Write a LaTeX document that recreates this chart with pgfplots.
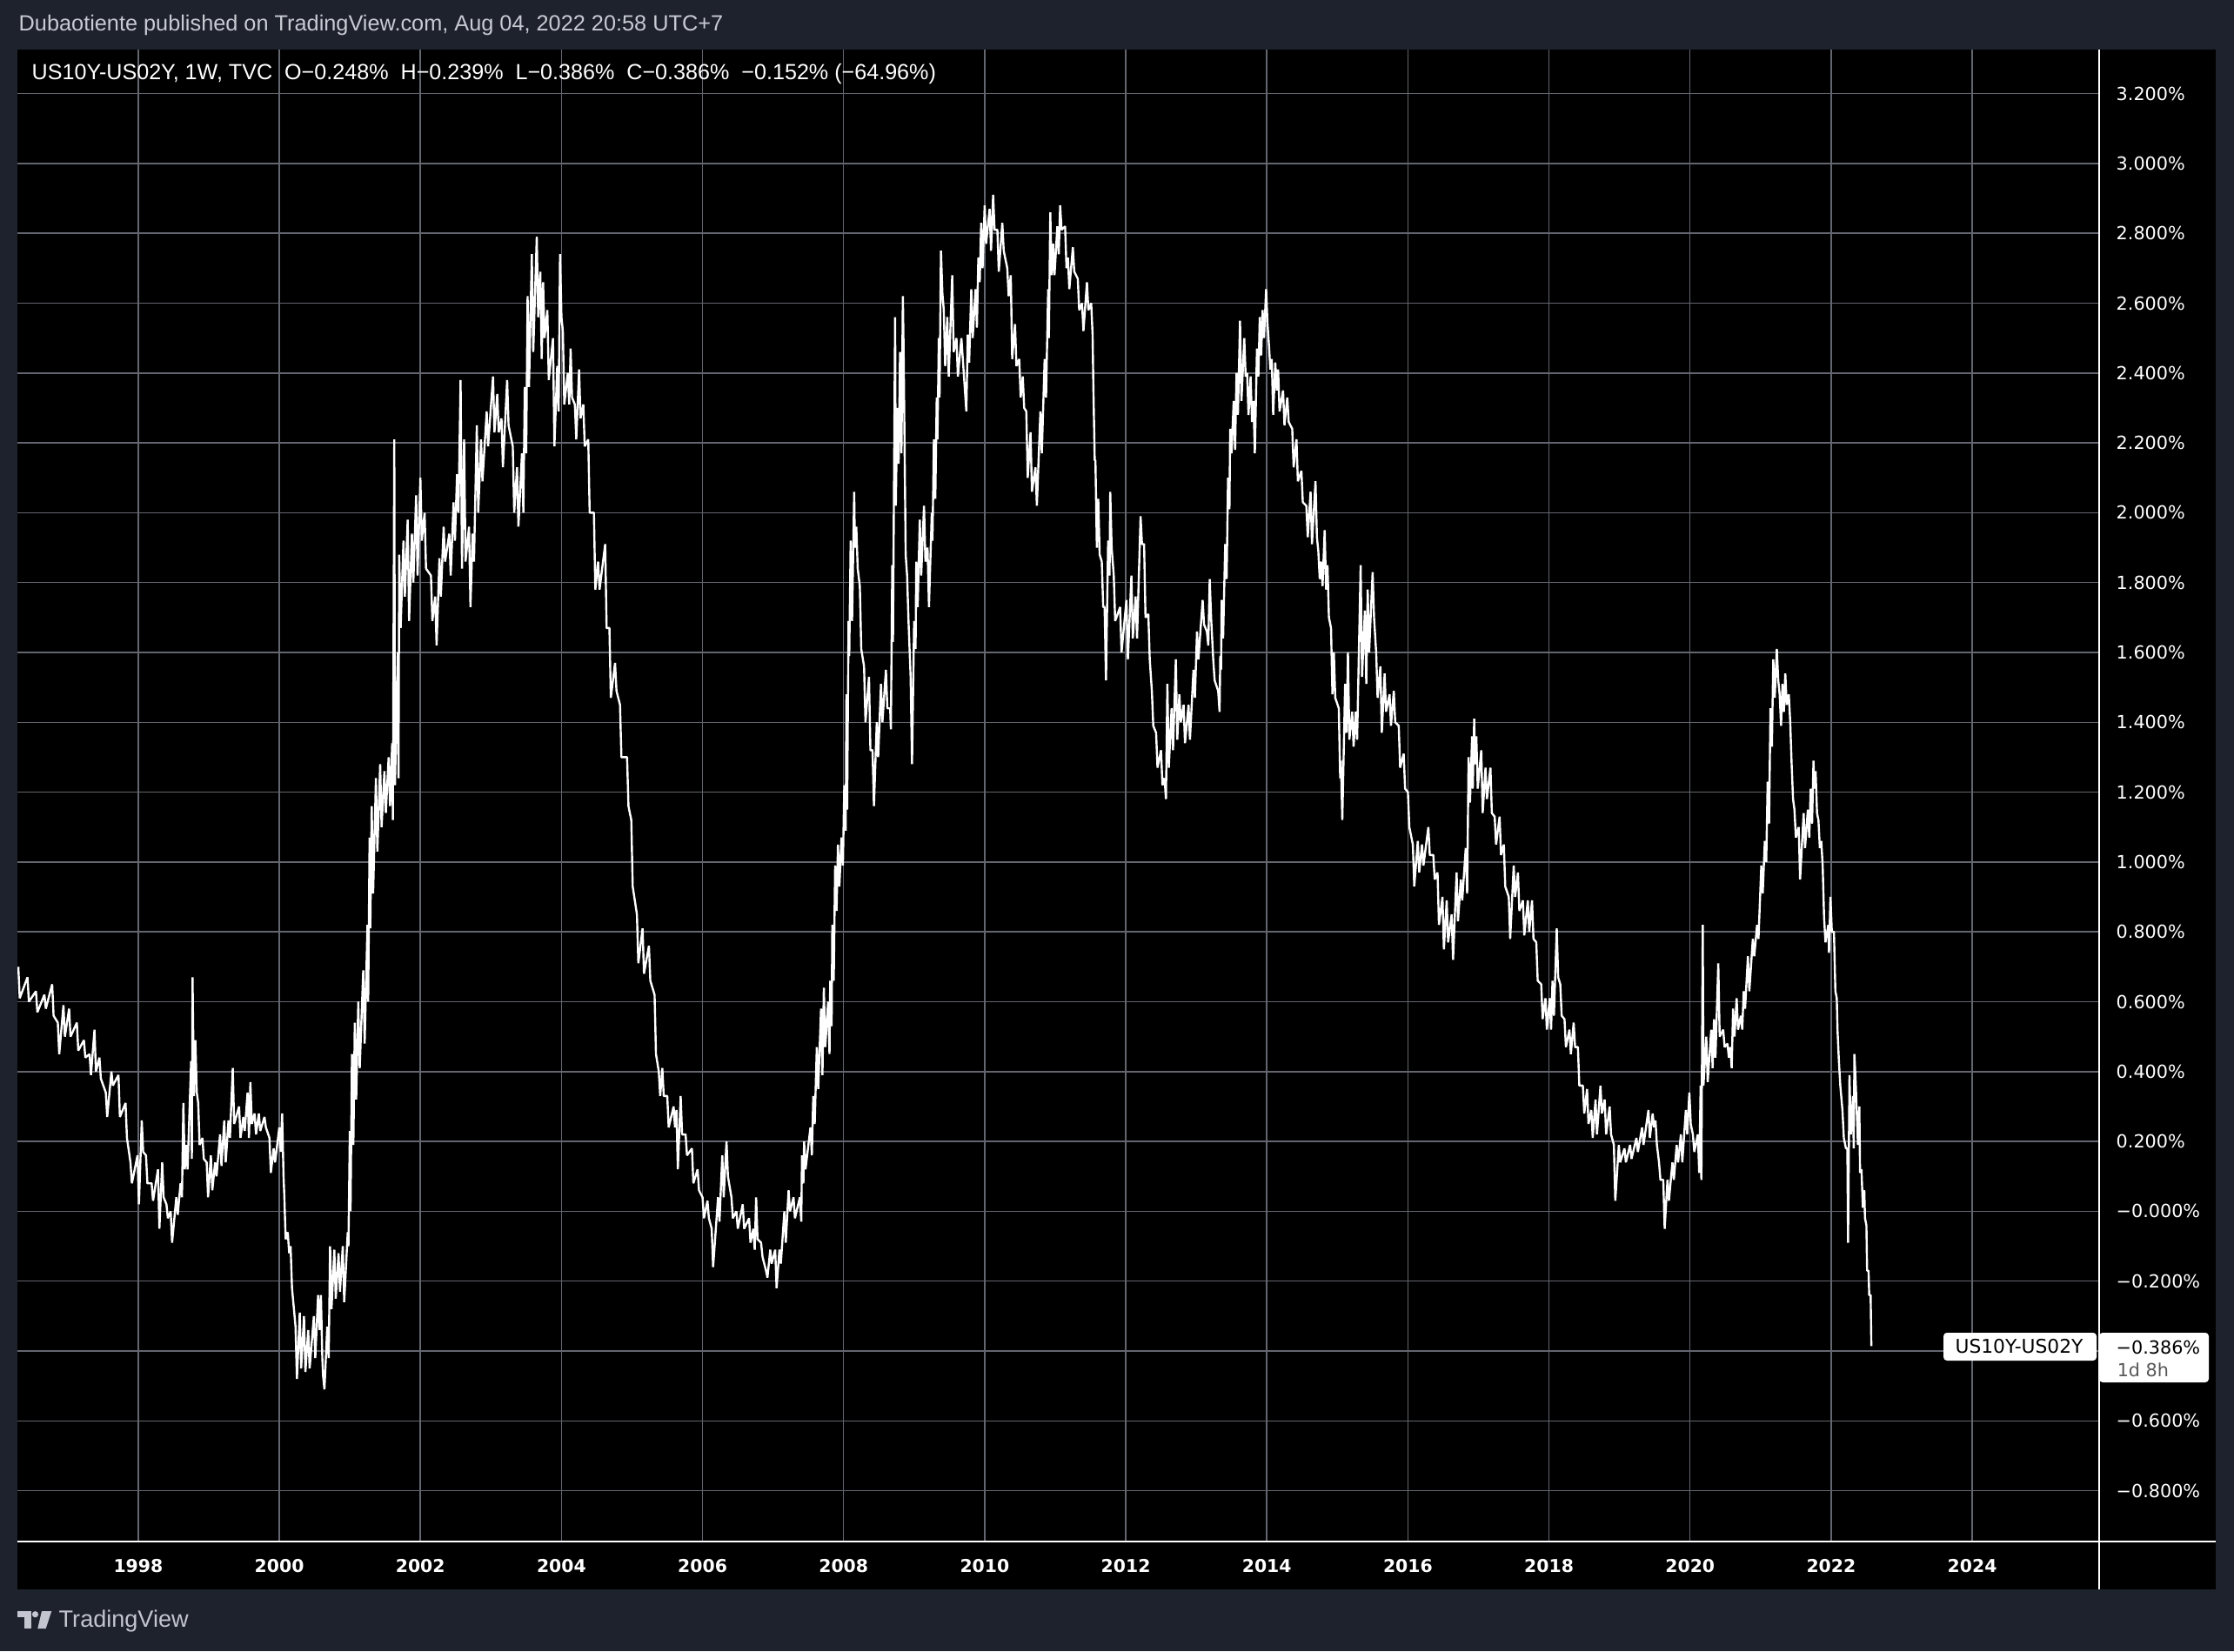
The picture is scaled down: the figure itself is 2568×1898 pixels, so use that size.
\documentclass[border=0pt]{standalone}
\usepackage{fontspec}
\setmainfont{Liberation Sans}
\newfontfamily\dejavu{DejaVu Sans}
\usepackage{pgfplots}
\pgfplotsset{compat=1.18}
\definecolor{frame}{HTML}{1E222D}
\definecolor{gridc}{HTML}{63666F}
\definecolor{headc}{HTML}{C8CBD2}
\definecolor{logoc}{HTML}{C3C6CE}

\begin{document}
\begin{tikzpicture}
% page and panels, in units of one pixel of the 2568x1898 image
\begin{scope}[x=0.1mm,y=0.1mm]
  \useasboundingbox (0,0) rectangle (2568,1898);
  \fill[frame] (0,0) rectangle (2568,1898);
  \fill[black] (20,71) rectangle (2547,1841);
\end{scope}

\begin{axis}[
    at={(2mm,12.6mm)}, anchor=south west,
    scale only axis,
    width=239.3mm, height=171.5mm,
    xmin=1996.287, xmax=2025.80,
    ymin=-0.9455, ymax=3.326,
    axis line style={draw=none},
    major tick length=0pt,
    grid=major,
    grid style={gridc, line width=0.15mm},
    xtick={1998,2000,...,2024},
    xticklabels={1998,2000,2002,2004,2006,2008,2010,2012,2014,2016,2018,2020,2022,2024},
    xticklabel style={font=\dejavu\bfseries\fontsize{5.8}{6}\selectfont, text=white,
                      anchor=center, yshift=-2.8mm},
    ytick={-0.8,-0.6,-0.4,-0.2,0,0.2,0.4,0.6,0.8,1.0,1.2,1.4,1.6,1.8,2.0,2.2,2.4,2.6,2.8,3.0,3.2},
    yticklabels={−0.800\%,−0.600\%,−0.400\%,−0.200\%,−0.000\%,0.200\%,0.400\%,0.600\%,0.800\%,1.000\%,
                 1.200\%,1.400\%,1.600\%,1.800\%,2.000\%,2.200\%,2.400\%,2.600\%,2.800\%,3.000\%,3.200\%},
    yticklabel pos=right,
    yticklabel style={font=\dejavu\fontsize{5.9}{6}\selectfont, text=white,
                      anchor=west, inner sep=0pt, xshift=1.9mm},
  ]
  % weekly bars, read as high / low pairs
  \addplot[white, line width=0.24mm, line join=bevel] coordinates {
    (1996.30,0.70)(1996.32,0.61)(1996.43,0.67)(1996.45,0.60)(1996.55,0.63)(1996.57,0.57)
    (1996.67,0.62)(1996.69,0.58)(1996.78,0.65)(1996.80,0.56)(1996.86,0.54)(1996.88,0.45)
    (1996.94,0.59)(1996.96,0.50)(1997.02,0.58)(1997.04,0.50)(1997.13,0.54)(1997.15,0.46)
    (1997.23,0.49)(1997.25,0.44)(1997.31,0.45)(1997.33,0.39)(1997.38,0.52)(1997.40,0.40)
    (1997.45,0.44)(1997.47,0.38)(1997.54,0.34)(1997.56,0.27)(1997.62,0.40)(1997.64,0.36)
    (1997.72,0.39)(1997.74,0.27)(1997.82,0.31)(1997.84,0.21)(1997.89,0.14)(1997.91,0.08)
    (1997.99,0.16)(1998.01,0.02)(1998.05,0.26)(1998.07,0.17)(1998.11,0.16)(1998.13,0.08)
    (1998.19,0.08)(1998.21,0.03)(1998.28,0.12)(1998.30,-0.05)(1998.34,0.14)(1998.36,0.04)
    (1998.40,0.02)(1998.42,-0.02)(1998.46,0.00)(1998.48,-0.09)(1998.54,0.04)(1998.56,-0.01)
    (1998.60,0.08)(1998.62,0.04)(1998.64,0.31)(1998.66,0.12)(1998.68,0.19)(1998.70,0.12)
    (1998.75,0.43)(1998.76,0.15)(1998.77,0.67)(1998.79,0.33)(1998.81,0.49)(1998.83,0.34)
    (1998.85,0.31)(1998.87,0.19)(1998.91,0.21)(1998.93,0.15)(1998.97,0.14)(1998.99,0.04)
    (1999.03,0.16)(1999.05,0.06)(1999.09,0.14)(1999.11,0.10)(1999.16,0.22)(1999.18,0.13)
    (1999.22,0.26)(1999.24,0.14)(1999.28,0.26)(1999.30,0.21)(1999.34,0.41)(1999.36,0.25)
    (1999.43,0.30)(1999.45,0.21)(1999.49,0.27)(1999.51,0.23)(1999.55,0.34)(1999.57,0.21)
    (1999.59,0.37)(1999.61,0.25)(1999.65,0.28)(1999.67,0.22)(1999.71,0.28)(1999.73,0.23)
    (1999.79,0.27)(1999.81,0.24)(1999.86,0.21)(1999.88,0.11)(1999.92,0.18)(1999.94,0.14)
    (2000.00,0.24)(2000.02,0.17)(2000.04,0.28)(2000.06,0.10)(2000.07,0.05)(2000.09,-0.08)
    (2000.12,-0.06)(2000.14,-0.12)(2000.16,-0.10)(2000.18,-0.22)(2000.23,-0.33)(2000.25,-0.48)
    (2000.29,-0.29)(2000.31,-0.45)(2000.35,-0.30)(2000.37,-0.46)(2000.41,-0.34)(2000.43,-0.45)
    (2000.49,-0.30)(2000.51,-0.42)(2000.55,-0.24)(2000.57,-0.34)(2000.59,-0.24)(2000.61,-0.42)
    (2000.62,-0.47)(2000.64,-0.51)(2000.68,-0.33)(2000.70,-0.42)(2000.72,-0.10)(2000.74,-0.28)
    (2000.78,-0.11)(2000.80,-0.25)(2000.84,-0.12)(2000.86,-0.23)(2000.90,-0.10)(2000.92,-0.26)
    (2000.97,-0.06)(2000.98,-0.10)(2001.00,0.23)(2001.01,0.00)(2001.03,0.45)(2001.05,0.19)
    (2001.07,0.54)(2001.09,0.32)(2001.12,0.60)(2001.14,0.41)(2001.19,0.69)(2001.21,0.48)
    (2001.25,0.82)(2001.26,0.60)(2001.28,1.07)(2001.29,0.81)(2001.31,1.16)(2001.33,0.91)
    (2001.37,1.24)(2001.39,1.03)(2001.43,1.28)(2001.45,1.10)(2001.49,1.26)(2001.51,1.14)
    (2001.55,1.30)(2001.57,1.16)(2001.60,1.34)(2001.61,1.12)(2001.63,2.21)(2001.64,1.22)
    (2001.68,1.60)(2001.69,1.24)(2001.70,1.88)(2001.72,1.67)(2001.76,1.92)(2001.78,1.76)
    (2001.82,1.98)(2001.84,1.69)(2001.88,1.94)(2001.90,1.80)(2001.94,2.05)(2001.96,1.82)
    (2002.00,2.10)(2002.02,1.92)(2002.06,2.00)(2002.08,1.84)(2002.15,1.82)(2002.17,1.69)
    (2002.21,1.76)(2002.23,1.62)(2002.27,1.87)(2002.29,1.76)(2002.33,1.96)(2002.35,1.86)
    (2002.41,1.94)(2002.43,1.82)(2002.47,2.03)(2002.49,1.92)(2002.52,2.11)(2002.54,2.00)
    (2002.57,2.38)(2002.59,1.84)(2002.62,2.21)(2002.64,1.86)(2002.69,1.96)(2002.71,1.73)
    (2002.74,1.94)(2002.76,1.86)(2002.80,2.25)(2002.82,2.00)(2002.86,2.21)(2002.88,2.09)
    (2002.94,2.29)(2002.96,2.19)(2003.03,2.39)(2003.05,2.23)(2003.09,2.34)(2003.11,2.23)
    (2003.15,2.27)(2003.17,2.13)(2003.23,2.38)(2003.25,2.25)(2003.31,2.19)(2003.33,2.00)
    (2003.37,2.13)(2003.39,1.96)(2003.44,2.17)(2003.46,2.00)(2003.48,2.36)(2003.50,2.17)
    (2003.52,2.62)(2003.54,2.36)(2003.58,2.74)(2003.60,2.46)(2003.65,2.79)(2003.67,2.56)
    (2003.70,2.69)(2003.72,2.44)(2003.74,2.66)(2003.76,2.50)(2003.80,2.58)(2003.82,2.38)
    (2003.88,2.50)(2003.90,2.19)(2003.94,2.42)(2003.96,2.29)(2003.98,2.74)(2004.00,2.56)
    (2004.02,2.52)(2004.04,2.31)(2004.09,2.40)(2004.11,2.31)(2004.13,2.47)(2004.15,2.33)
    (2004.19,2.31)(2004.21,2.21)(2004.25,2.41)(2004.27,2.27)(2004.31,2.31)(2004.33,2.19)
    (2004.38,2.21)(2004.40,2.00)(2004.46,2.00)(2004.48,1.78)(2004.52,1.86)(2004.54,1.78)
    (2004.62,1.91)(2004.64,1.67)(2004.68,1.67)(2004.70,1.47)(2004.76,1.57)(2004.78,1.49)
    (2004.83,1.45)(2004.85,1.30)(2004.93,1.30)(2004.95,1.16)(2004.99,1.12)(2005.01,0.93)
    (2005.07,0.85)(2005.09,0.71)(2005.15,0.81)(2005.17,0.68)(2005.24,0.76)(2005.26,0.66)
    (2005.32,0.62)(2005.34,0.45)(2005.38,0.40)(2005.40,0.33)(2005.43,0.41)(2005.45,0.33)
    (2005.50,0.33)(2005.52,0.24)(2005.59,0.30)(2005.61,0.24)(2005.63,0.29)(2005.65,0.12)
    (2005.69,0.33)(2005.71,0.22)(2005.76,0.22)(2005.78,0.16)(2005.85,0.18)(2005.87,0.08)
    (2005.93,0.12)(2005.95,0.06)(2006.00,0.04)(2006.02,-0.02)(2006.07,0.03)(2006.09,-0.02)
    (2006.13,-0.05)(2006.15,-0.16)(2006.22,0.04)(2006.24,-0.03)(2006.28,0.16)(2006.30,0.04)
    (2006.34,0.20)(2006.36,0.10)(2006.41,0.04)(2006.43,-0.02)(2006.48,0.00)(2006.50,-0.05)
    (2006.57,0.02)(2006.59,-0.05)(2006.66,-0.02)(2006.68,-0.09)(2006.72,-0.05)(2006.74,-0.11)
    (2006.76,0.04)(2006.78,-0.08)(2006.83,-0.09)(2006.85,-0.13)(2006.90,-0.17)(2006.92,-0.19)
    (2006.96,-0.11)(2006.98,-0.15)(2007.03,-0.11)(2007.05,-0.22)(2007.09,-0.11)(2007.11,-0.15)
    (2007.16,0.00)(2007.18,-0.09)(2007.22,0.06)(2007.24,0.00)(2007.29,0.04)(2007.31,-0.02)
    (2007.38,0.04)(2007.40,-0.03)(2007.41,0.16)(2007.43,0.08)(2007.44,0.20)(2007.46,0.12)
    (2007.53,0.24)(2007.55,0.16)(2007.57,0.33)(2007.59,0.25)(2007.62,0.47)(2007.64,0.35)
    (2007.68,0.58)(2007.70,0.39)(2007.72,0.64)(2007.74,0.47)(2007.78,0.60)(2007.80,0.45)
    (2007.81,0.66)(2007.83,0.53)(2007.84,0.82)(2007.86,0.66)(2007.88,0.99)(2007.90,0.86)
    (2007.92,1.05)(2007.94,0.93)(2007.97,1.07)(2007.99,0.99)(2008.01,1.22)(2008.03,1.09)
    (2008.04,1.48)(2008.05,1.15)(2008.07,1.69)(2008.08,1.59)(2008.10,1.92)(2008.12,1.69)
    (2008.15,2.06)(2008.16,1.90)(2008.18,1.96)(2008.20,1.84)(2008.23,1.79)(2008.25,1.61)
    (2008.29,1.56)(2008.31,1.40)(2008.36,1.53)(2008.38,1.32)(2008.41,1.32)(2008.43,1.16)
    (2008.47,1.40)(2008.49,1.30)(2008.53,1.51)(2008.55,1.40)(2008.60,1.55)(2008.62,1.44)
    (2008.66,1.44)(2008.67,1.38)(2008.69,1.85)(2008.70,1.63)(2008.73,2.56)(2008.74,2.02)
    (2008.76,2.30)(2008.78,2.14)(2008.80,2.46)(2008.82,2.17)(2008.84,2.62)(2008.85,2.48)
    (2008.87,2.08)(2008.88,1.88)(2008.90,1.82)(2008.92,1.69)(2008.95,1.53)(2008.97,1.28)
    (2009.00,1.69)(2009.02,1.61)(2009.03,1.86)(2009.05,1.73)(2009.08,1.98)(2009.10,1.82)
    (2009.14,2.02)(2009.16,1.86)(2009.19,1.90)(2009.21,1.73)(2009.25,2.00)(2009.26,1.92)
    (2009.28,2.21)(2009.30,2.04)(2009.32,2.33)(2009.33,2.21)(2009.35,2.50)(2009.36,2.33)
    (2009.38,2.75)(2009.40,2.63)(2009.42,2.58)(2009.44,2.42)(2009.47,2.56)(2009.49,2.39)
    (2009.54,2.68)(2009.56,2.46)(2009.60,2.50)(2009.62,2.39)(2009.67,2.50)(2009.69,2.44)
    (2009.72,2.35)(2009.74,2.29)(2009.76,2.51)(2009.78,2.43)(2009.81,2.64)(2009.83,2.50)
    (2009.87,2.64)(2009.89,2.53)(2009.91,2.73)(2009.93,2.66)(2009.95,2.83)(2009.97,2.70)
    (2010.00,2.88)(2010.02,2.77)(2010.07,2.87)(2010.09,2.75)(2010.12,2.91)(2010.14,2.81)
    (2010.18,2.81)(2010.20,2.69)(2010.25,2.83)(2010.27,2.75)(2010.32,2.70)(2010.34,2.62)
    (2010.37,2.68)(2010.39,2.44)(2010.43,2.54)(2010.45,2.42)(2010.49,2.44)(2010.51,2.33)
    (2010.54,2.39)(2010.56,2.30)(2010.59,2.29)(2010.61,2.10)(2010.65,2.23)(2010.67,2.06)
    (2010.72,2.13)(2010.74,2.02)(2010.79,2.29)(2010.81,2.17)(2010.85,2.44)(2010.87,2.33)
    (2010.90,2.64)(2010.91,2.50)(2010.93,2.86)(2010.95,2.68)(2010.97,2.77)(2010.99,2.68)
    (2011.03,2.82)(2011.05,2.74)(2011.07,2.88)(2011.09,2.81)(2011.14,2.82)(2011.16,2.70)
    (2011.18,2.73)(2011.20,2.64)(2011.25,2.76)(2011.27,2.69)(2011.32,2.67)(2011.34,2.58)
    (2011.38,2.60)(2011.40,2.52)(2011.45,2.66)(2011.47,2.58)(2011.51,2.60)(2011.53,2.51)
    (2011.54,2.37)(2011.56,2.15)(2011.57,2.15)(2011.59,1.90)(2011.61,2.04)(2011.63,1.88)
    (2011.66,1.86)(2011.68,1.73)(2011.70,1.73)(2011.72,1.52)(2011.75,1.92)(2011.77,1.82)
    (2011.78,2.06)(2011.80,1.90)(2011.83,1.82)(2011.85,1.69)(2011.92,1.73)(2011.94,1.60)
    (2012.01,1.75)(2012.03,1.58)(2012.08,1.82)(2012.10,1.64)(2012.14,1.76)(2012.16,1.64)
    (2012.21,1.99)(2012.23,1.91)(2012.26,1.91)(2012.28,1.70)(2012.32,1.71)(2012.34,1.58)
    (2012.37,1.49)(2012.39,1.39)(2012.43,1.37)(2012.45,1.27)(2012.50,1.32)(2012.52,1.22)
    (2012.55,1.24)(2012.57,1.18)(2012.59,1.51)(2012.61,1.27)(2012.65,1.44)(2012.67,1.32)
    (2012.71,1.58)(2012.73,1.35)(2012.76,1.48)(2012.78,1.40)(2012.82,1.45)(2012.84,1.34)
    (2012.89,1.45)(2012.91,1.35)(2012.96,1.55)(2012.98,1.47)(2013.01,1.66)(2013.03,1.58)
    (2013.09,1.75)(2013.11,1.68)(2013.15,1.66)(2013.17,1.62)(2013.19,1.81)(2013.21,1.70)
    (2013.24,1.58)(2013.26,1.52)(2013.31,1.49)(2013.33,1.43)(2013.34,1.59)(2013.35,1.55)
    (2013.36,1.75)(2013.38,1.64)(2013.41,1.91)(2013.43,1.81)(2013.45,2.10)(2013.47,2.01)
    (2013.48,2.24)(2013.50,2.17)(2013.53,2.32)(2013.55,2.18)(2013.57,2.40)(2013.59,2.28)
    (2013.62,2.55)(2013.64,2.32)(2013.68,2.50)(2013.70,2.39)(2013.72,2.40)(2013.74,2.28)
    (2013.77,2.39)(2013.79,2.26)(2013.81,2.32)(2013.83,2.17)(2013.86,2.47)(2013.88,2.39)
    (2013.90,2.56)(2013.92,2.45)(2013.94,2.58)(2013.96,2.50)(2013.99,2.64)(2014.01,2.54)
    (2014.03,2.48)(2014.05,2.41)(2014.07,2.44)(2014.09,2.28)(2014.12,2.43)(2014.14,2.35)
    (2014.16,2.41)(2014.18,2.29)(2014.23,2.35)(2014.25,2.25)(2014.29,2.33)(2014.31,2.26)
    (2014.36,2.24)(2014.38,2.13)(2014.42,2.21)(2014.44,2.09)(2014.49,2.12)(2014.51,2.03)
    (2014.56,2.02)(2014.58,1.93)(2014.62,2.06)(2014.64,1.91)(2014.69,2.09)(2014.71,1.93)
    (2014.73,1.89)(2014.75,1.81)(2014.77,1.86)(2014.79,1.79)(2014.82,1.95)(2014.84,1.78)
    (2014.86,1.85)(2014.88,1.70)(2014.91,1.67)(2014.93,1.48)(2014.95,1.60)(2014.97,1.47)
    (2015.02,1.44)(2015.04,1.24)(2015.05,1.29)(2015.07,1.12)(2015.11,1.51)(2015.13,1.37)
    (2015.15,1.60)(2015.17,1.35)(2015.21,1.43)(2015.23,1.33)(2015.26,1.43)(2015.28,1.35)
    (2015.33,1.85)(2015.35,1.53)(2015.39,1.72)(2015.41,1.51)(2015.43,1.78)(2015.45,1.60)
    (2015.50,1.83)(2015.52,1.70)(2015.55,1.60)(2015.57,1.47)(2015.61,1.56)(2015.63,1.37)
    (2015.67,1.54)(2015.69,1.43)(2015.74,1.48)(2015.76,1.39)(2015.80,1.49)(2015.82,1.40)
    (2015.87,1.39)(2015.89,1.27)(2015.94,1.31)(2015.96,1.21)(2016.00,1.20)(2016.02,1.10)
    (2016.07,1.05)(2016.09,0.93)(2016.14,1.06)(2016.16,0.97)(2016.20,1.05)(2016.22,0.99)
    (2016.29,1.10)(2016.31,1.02)(2016.36,1.02)(2016.38,0.95)(2016.42,0.97)(2016.44,0.82)
    (2016.49,0.90)(2016.51,0.75)(2016.55,0.89)(2016.57,0.77)(2016.62,0.85)(2016.64,0.72)
    (2016.69,0.97)(2016.71,0.83)(2016.75,0.95)(2016.77,0.89)(2016.82,1.04)(2016.84,0.91)
    (2016.86,1.30)(2016.88,1.17)(2016.91,1.36)(2016.92,1.21)(2016.94,1.41)(2016.95,1.28)
    (2016.97,1.36)(2016.99,1.21)(2017.04,1.32)(2017.06,1.14)(2017.10,1.27)(2017.12,1.18)
    (2017.17,1.27)(2017.19,1.14)(2017.23,1.13)(2017.25,1.05)(2017.30,1.13)(2017.32,1.02)
    (2017.36,1.05)(2017.38,0.93)(2017.43,0.90)(2017.45,0.78)(2017.50,0.99)(2017.52,0.90)
    (2017.56,0.97)(2017.58,0.86)(2017.63,0.89)(2017.65,0.79)(2017.70,0.89)(2017.72,0.80)
    (2017.76,0.89)(2017.78,0.78)(2017.82,0.77)(2017.84,0.66)(2017.89,0.65)(2017.91,0.55)
    (2017.95,0.61)(2017.97,0.52)(2018.01,0.61)(2018.03,0.52)(2018.05,0.66)(2018.07,0.56)
    (2018.11,0.81)(2018.13,0.67)(2018.16,0.65)(2018.18,0.56)(2018.22,0.55)(2018.24,0.47)
    (2018.29,0.52)(2018.31,0.45)(2018.35,0.54)(2018.37,0.47)(2018.41,0.47)(2018.43,0.36)
    (2018.48,0.36)(2018.50,0.28)(2018.54,0.35)(2018.56,0.25)(2018.60,0.29)(2018.62,0.21)
    (2018.66,0.32)(2018.68,0.22)(2018.73,0.36)(2018.75,0.28)(2018.79,0.32)(2018.81,0.22)
    (2018.86,0.30)(2018.88,0.22)(2018.92,0.19)(2018.94,0.03)(2018.99,0.19)(2019.01,0.14)
    (2019.07,0.18)(2019.09,0.14)(2019.15,0.19)(2019.17,0.15)(2019.24,0.21)(2019.26,0.17)
    (2019.32,0.24)(2019.34,0.19)(2019.41,0.29)(2019.43,0.21)(2019.47,0.28)(2019.49,0.24)
    (2019.51,0.26)(2019.53,0.19)(2019.56,0.14)(2019.58,0.09)(2019.62,0.09)(2019.64,-0.05)
    (2019.68,0.09)(2019.70,0.03)(2019.75,0.14)(2019.77,0.09)(2019.81,0.19)(2019.83,0.14)
    (2019.87,0.22)(2019.89,0.14)(2019.94,0.29)(2019.96,0.22)(2019.99,0.34)(2020.01,0.25)
    (2020.04,0.22)(2020.06,0.17)(2020.11,0.22)(2020.13,0.11)(2020.15,0.36)(2020.16,0.09)
    (2020.18,0.82)(2020.19,0.36)(2020.23,0.50)(2020.25,0.37)(2020.30,0.52)(2020.32,0.41)
    (2020.34,0.55)(2020.36,0.44)(2020.40,0.71)(2020.42,0.50)(2020.47,0.52)(2020.49,0.47)
    (2020.53,0.48)(2020.55,0.44)(2020.57,0.47)(2020.59,0.41)(2020.61,0.58)(2020.63,0.50)
    (2020.66,0.61)(2020.68,0.52)(2020.72,0.56)(2020.74,0.52)(2020.76,0.63)(2020.78,0.58)
    (2020.82,0.73)(2020.84,0.63)(2020.89,0.78)(2020.91,0.73)(2020.95,0.82)(2020.97,0.78)
    (2021.01,0.99)(2021.03,0.91)(2021.06,1.06)(2021.08,1.00)(2021.10,1.23)(2021.12,1.11)
    (2021.14,1.44)(2021.16,1.33)(2021.18,1.58)(2021.20,1.47)(2021.23,1.61)(2021.25,1.52)
    (2021.27,1.48)(2021.29,1.39)(2021.31,1.51)(2021.33,1.43)(2021.35,1.54)(2021.37,1.45)
    (2021.40,1.48)(2021.42,1.40)(2021.44,1.28)(2021.46,1.18)(2021.48,1.15)(2021.50,1.07)
    (2021.54,1.10)(2021.56,0.95)(2021.61,1.14)(2021.63,1.04)(2021.67,1.15)(2021.69,1.07)
    (2021.71,1.21)(2021.73,1.11)(2021.75,1.29)(2021.76,1.21)(2021.78,1.26)(2021.80,1.14)
    (2021.82,1.12)(2021.84,1.04)(2021.86,1.06)(2021.88,0.99)(2021.90,0.84)(2021.92,0.77)
    (2021.96,0.82)(2021.97,0.74)(2021.99,0.90)(2022.01,0.80)(2022.04,0.80)(2022.06,0.63)
    (2022.08,0.61)(2022.09,0.52)(2022.11,0.43)(2022.13,0.36)(2022.16,0.29)(2022.18,0.21)
    (2022.20,0.19)(2022.21,0.18)(2022.23,0.18)(2022.24,-0.09)(2022.26,0.39)(2022.28,0.22)
    (2022.31,0.33)(2022.32,0.18)(2022.33,0.45)(2022.35,0.36)(2022.36,0.30)(2022.38,0.19)
    (2022.40,0.30)(2022.41,0.11)(2022.43,0.12)(2022.45,0.01)(2022.47,0.06)(2022.48,-0.02)
    (2022.50,-0.04)(2022.51,-0.17)(2022.53,-0.17)(2022.54,-0.24)(2022.56,-0.24)(2022.57,-0.386)
  };
\end{axis}

\begin{scope}[x=0.1mm,y=0.1mm]
  % separators of the price and time scales
  \draw[white, line width=0.2mm] (2413,71) -- (2413,1841);
  \draw[white, line width=0.2mm] (20,126) -- (2547,126);
  % header and legend
  \node[anchor=west, inner sep=0pt, text=headc, font=\fontsize{7.2}{8}\selectfont]
    at (21,1869) {Dubaotiente published on TradingView.com, Aug 04, 2022 20:58 UTC+7};
  \node[anchor=west, inner sep=0pt, text=white, font=\fontsize{7.15}{8}\selectfont]
    at (36,1813) {US10Y-US02Y, 1W, TVC~~O−0.248\%~~H−0.239\%~~L−0.386\%~~C−0.386\%~~−0.152\% (−64.96\%)};
  % last price labels
  \fill[white, rounded corners=0.4mm] (2234,334) rectangle (2410,366);
  \node[inner sep=0pt, text=black, font=\dejavu\fontsize{6.2}{7}\selectfont] at (2321,350) {US10Y-US02Y};
  \fill[white, rounded corners=0.4mm] (2413,309) rectangle (2539,366);
  \node[anchor=west, inner sep=0pt, text=black, font=\dejavu\fontsize{5.9}{6}\selectfont] at (2432,349) {−0.386\%};
  \node[anchor=west, inner sep=0pt, text=black!65, font=\dejavu\fontsize{5.9}{6}\selectfont] at (2433,323) {1d 8h};
  % TradingView logo
  \fill[logoc] (20,39) rectangle (36,46);
  \fill[logoc] (28,26) rectangle (36,46);
  \fill[logoc] (40.5,42.3) circle (3.6);
  \fill[logoc] (43.3,26) -- (52.7,26) -- (59.3,46) -- (48,46) -- cycle;
  \node[anchor=west, inner sep=0pt, text=logoc, font=\fontsize{7.7}{9}\selectfont]
    at (67,35) {TradingView};
\end{scope}
\end{tikzpicture}
\end{document}
